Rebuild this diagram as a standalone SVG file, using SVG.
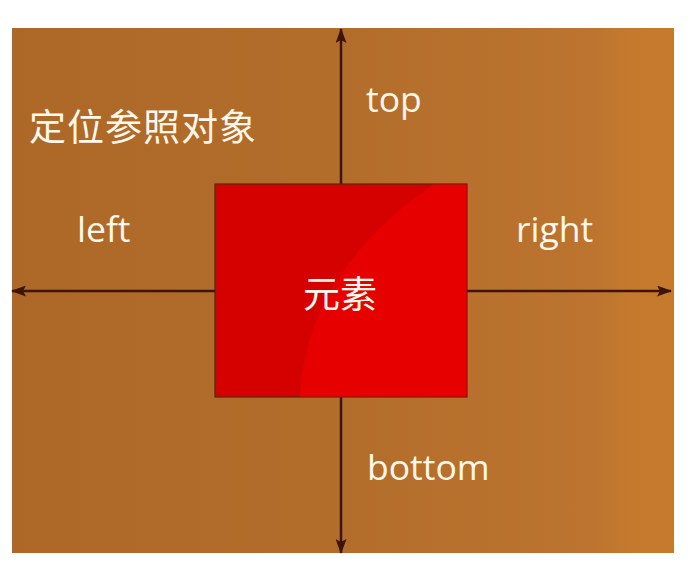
<svg xmlns="http://www.w3.org/2000/svg" width="694" height="568" viewBox="0 0 694 568">
  <defs>
    <linearGradient id="bg" x1="0" y1="0" x2="1" y2="0">
      <stop offset="0" stop-color="#ad6727"/>
      <stop offset="0.5" stop-color="#b36d2b"/>
      <stop offset="0.88" stop-color="#bc742f"/>
      <stop offset="0.93" stop-color="#c4792e"/>
      <stop offset="1" stop-color="#c67a2d"/>
    </linearGradient>
    <marker id="ah" viewBox="0 0 15 11" refX="14" refY="5.5" markerWidth="15" markerHeight="11" markerUnits="userSpaceOnUse" orient="auto">
      <path d="M0,0 L15,5.5 L0,11 L3,5.5 Z" fill="#3e1407"/>
    </marker>
    <style>
      .lbl { font-family: "Open Sans", "Liberation Sans", sans-serif; font-size: 35.5px; fill: #fff8ea; }
      .cjk { font-family: "Noto Sans CJK SC", "Noto Sans", sans-serif; fill: #fff8ea; }
      .conn { stroke: #3e1407; stroke-width: 2.5; fill: none; marker-end: url(#ah); }
    </style>
  </defs>

  <rect x="0" y="0" width="694" height="568" fill="#ffffff"/>

  <g id="reference-frame">
    <rect x="12" y="28" width="662" height="525" fill="url(#bg)"/>
    <text class="cjk" x="29" y="125" font-size="37" dominant-baseline="central" letter-spacing="1">定位参照对象</text>
  </g>

  <g id="connectors">
    <line class="conn" x1="341" y1="291" x2="341" y2="29"/>
    <line class="conn" x1="341" y1="291" x2="341" y2="553"/>
    <line class="conn" x1="341" y1="291" x2="12" y2="291"/>
    <line class="conn" x1="341" y1="291" x2="671" y2="291"/>
  </g>

  <g id="labels">
    <text class="lbl" x="366" y="112">top</text>
    <text class="lbl" x="77" y="242">left</text>
    <text class="lbl" x="516" y="242">right</text>
    <text class="lbl" x="367" y="480">bottom</text>
  </g>

  <g id="element">
    <rect x="215" y="184" width="252" height="213" fill="#d50000" stroke="#5a2410" stroke-width="1.2"/>
    <path d="M433,184.6 L466.4,184.6 L466.4,396.4 L300,396.4 C304,320 340,250 433,184.6 Z" fill="#e60000"/>
    <text class="cjk" x="340" y="292" font-size="37" text-anchor="middle" dominant-baseline="central">元素</text>
  </g>
</svg>
